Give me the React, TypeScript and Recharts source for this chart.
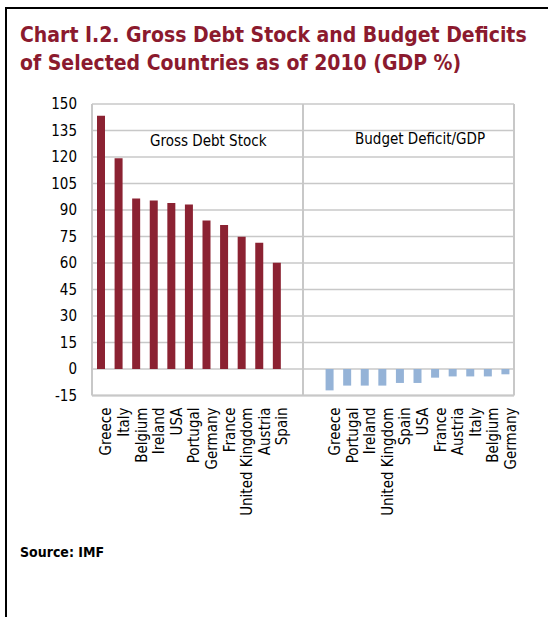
import { BarChart, Bar, Cell, XAxis, YAxis, CartesianGrid, ReferenceLine } from "recharts";

const debtCountries = ["Greece", "Italy", "Belgium", "Ireland", "USA", "Portugal", "Germany", "France", "United Kingdom", "Austria", "Spain"];
const debtValues = [143.3, 119.3, 96.5, 95.4, 94.0, 93.1, 84.0, 81.5, 74.9, 71.5, 60.2];

const deficitCountries = ["Greece", "Portugal", "Ireland", "United Kingdom", "Spain", "USA", "France", "Austria", "Italy", "Belgium", "Germany"];
const deficitValues = [-12.1, -9.4, -9.4, -9.4, -7.9, -7.9, -4.9, -4.2, -4.2, -4.2, -3.0];

const yTicks = [150, 135, 120, 105, 90, 75, 60, 45, 30, 15, 0, -15];

const DEBT_COLOR = "#8b2232";
const DEFICIT_COLOR = "#95b3d7";
const FONT = "'DejaVu Sans Condensed', Tahoma, 'DejaVu Sans', sans-serif";

// one band per slot: 11 debt bars, two empty slots, 11 deficit bars
const rows = [
  ...debtCountries.map((c, i) => ({ key: "d" + i, name: c, value: debtValues[i], side: "debt" })),
  { key: "gap1", name: "", value: null, side: "none" },
  { key: "gap2", name: "", value: null, side: "none" },
  ...deficitCountries.map((c, i) => ({ key: "b" + i, name: c, value: deficitValues[i], side: "deficit" })),
];

const nameOf = (k: string) => rows.find((r) => r.key === k)?.name ?? "";

export default function App() {
  return (
    <div style={{ position: "absolute", left: 0, top: 0, width: 548, height: 617, background: "#fff", fontFamily: FONT }}>
      <div
        style={{
          position: "absolute",
          left: 5,
          top: 7,
          width: 543,
          height: 610,
          borderTop: "2px solid #000",
          borderLeft: "2px solid #000",
        }}
      />
      <div
        style={{
          position: "absolute",
          left: 20,
          top: 21,
          fontSize: 21,
          fontWeight: "bold",
          lineHeight: "28px",
          color: "#8b1a2e",
          whiteSpace: "nowrap",
        }}
      >
        Chart I.2. Gross Debt Stock and Budget Deficits
        <br />
        of Selected Countries as of 2010 (GDP %)
      </div>

      <div style={{ position: "absolute", left: 0, top: 0 }}>
        <BarChart width={548} height={560} data={rows} margin={{ top: 104, right: 34, bottom: 0, left: 0 }}>
          <CartesianGrid vertical={false} stroke="#c8c8c8" strokeWidth={1.5} />
          <XAxis
            dataKey="key"
            height={164.5}
            interval={0}
            tickLine={false}
            axisLine={{ stroke: "#c8c8c8", strokeWidth: 2 }}
            tickSize={0}
            tickMargin={12}
            angle={-90}
            textAnchor="end"
            tickFormatter={nameOf}
            tick={{ fill: "#000", fontSize: 15, fontFamily: FONT }}
          />
          <YAxis
            domain={[-15, 150]}
            ticks={yTicks}
            width={92}
            interval={0}
            tickLine={false}
            tickSize={6}
            tickMargin={9}
            axisLine={{ stroke: "#c8c8c8", strokeWidth: 2 }}
            tick={{ fill: "#000", fontSize: 15, fontFamily: FONT }}
          />
          <ReferenceLine x="gap2" position="start" stroke="#c8c8c8" strokeWidth={2} />
          <ReferenceLine x="b10" position="end" stroke="#c8c8c8" strokeWidth={2} />
          <Bar dataKey="value" barSize={8} isAnimationActive={false}>
            {rows.map((r) => (
              <Cell key={r.key} fill={r.side === "debt" ? DEBT_COLOR : DEFICIT_COLOR} />
            ))}
          </Bar>
        </BarChart>
      </div>

      <div style={{ position: "absolute", left: 150, top: 132, fontSize: 15, whiteSpace: "nowrap" }}>Gross Debt Stock</div>
      <div style={{ position: "absolute", left: 355, top: 130, fontSize: 15, whiteSpace: "nowrap" }}>Budget Deficit/GDP</div>

      <div style={{ position: "absolute", left: 20, top: 544, fontSize: 14, fontWeight: "bold" }}>Source: IMF</div>
    </div>
  );
}
